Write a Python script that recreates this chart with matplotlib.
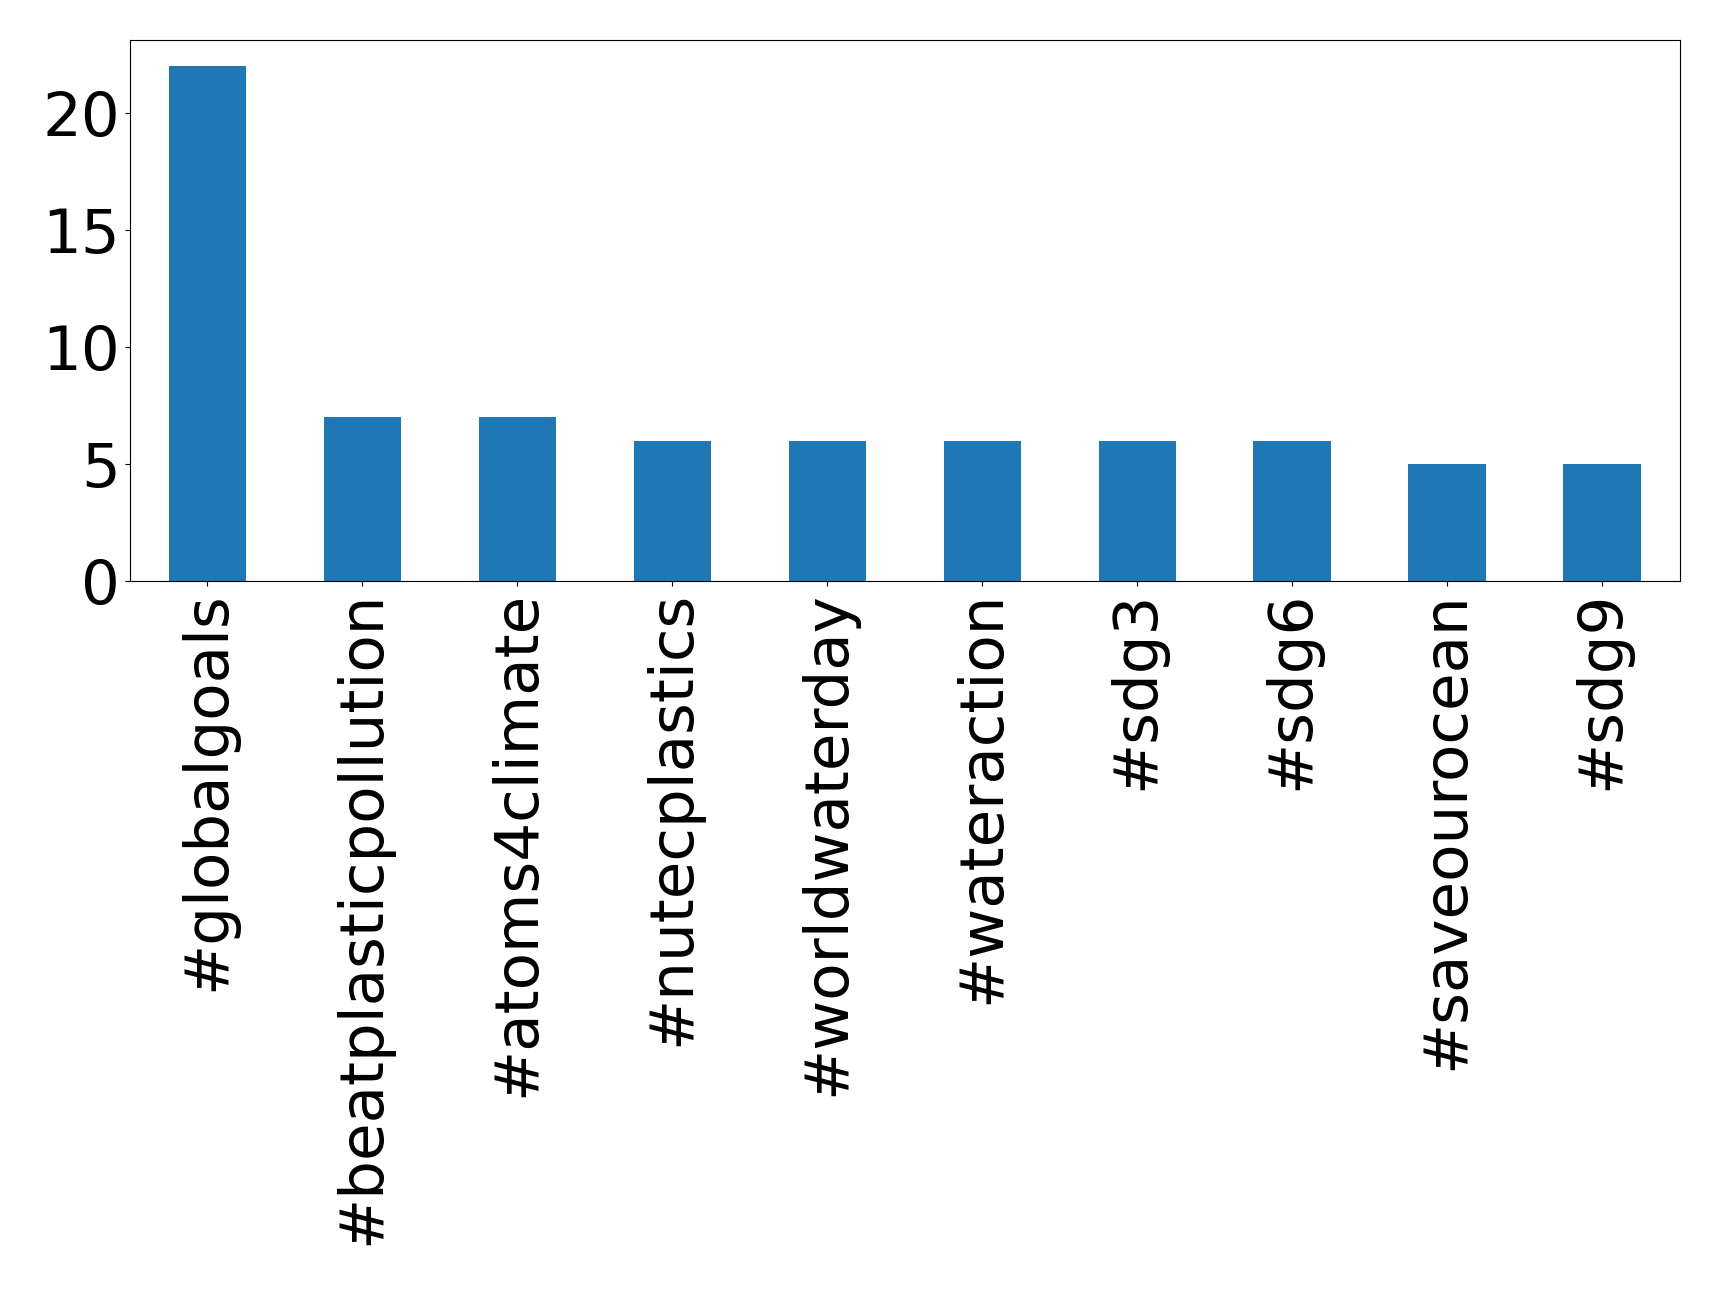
import matplotlib
matplotlib.use("Agg")
import matplotlib.pyplot as plt

tags = ["#globalgoals", "#beatplasticpollution", "#atoms4climate", "#nutecplastics",
        "#worldwaterday", "#wateraction", "#sdg3", "#sdg6", "#saveourocean", "#sdg9"]
counts = [22, 7, 7, 6, 6, 6, 6, 6, 5, 5]

fig = plt.figure(figsize=(17.19, 12.97), dpi=100)
ax = fig.add_axes([0.0756, 0.552, 0.9015, 0.417])
x = range(len(tags))
ax.bar(x, counts, width=0.5, color="#1f77b4")
ax.set_xlim(-0.5, len(tags) - 0.5)
ax.set_ylim(0, 23.1)
ax.set_xticks(list(x))
ax.set_xticklabels(tags, rotation=90)
ax.set_yticks([0, 5, 10, 15, 20])
ax.tick_params(labelsize=44)
fig.savefig("out.png", dpi=100)
